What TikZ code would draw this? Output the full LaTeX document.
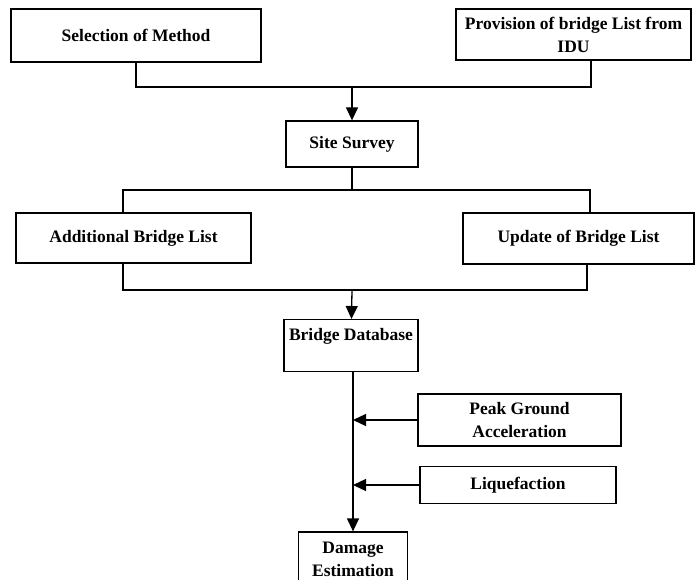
\documentclass[tikz,border=0pt]{standalone}
\usepackage{fontspec}
\setmainfont{Liberation Serif}
\usetikzlibrary{arrows.meta,positioning}

\begin{document}
\begin{tikzpicture}[x=1pt,y=-1pt,
  every node/.style={draw,line width=1.3pt,inner sep=0pt,align=center,
    font=\fontsize{17.5}{23}\selectfont\bfseries},
  link/.style={line width=1.3pt},
  arr/.style={link,-{Triangle[length=13pt,width=12pt]}}]
  \useasboundingbox (0,0) rectangle (695,580);
  \clip (0,0) rectangle (695,580);
  % Boxes
  \node (sel) [minimum width=250pt,minimum height=53pt] at (136,35.5) {Selection of Method};
  \node (prov) [minimum width=235pt,minimum height=51pt] at (573.5,34.5) {Provision of bridge List from\\IDU};
  \node (site) [minimum width=132pt,minimum height=46pt] at (352,144) {Site Survey};
  \node (add) [minimum width=235pt,minimum height=50pt] at (133.5,238) {Additional Bridge List};
  \node (upd) [minimum width=231pt,minimum height=51pt] at (578.5,238.5) {Update of Bridge List};
  \node (db) [minimum width=134pt,text height=21pt,text depth=31pt,anchor=north] at (351,319) {Bridge Database};
  \node (pga) [minimum width=203pt,minimum height=52pt] at (519.5,420) {Peak Ground\\Acceleration};
  \node (liq) [minimum width=196pt,minimum height=37pt] at (518,485) {Liquefaction};
  \node (dmg) [minimum width=109pt,minimum height=54pt] at (353,559) {Damage\\Estimation};
  \coordinate (top) at (352,87);
  \coordinate (mid) at (352,190);
  \coordinate (low) at (352,290);
  % Joins
  \draw[link] (sel) |- (top) -| ([xshift=17.5pt]prov.south);
  \draw[arr] (top) -- (site);
  \draw[link] (site) -- (mid);
  \draw[link] ([xshift=-10.5pt]add.north) |- (mid) -| ([xshift=11.5pt]upd.north);
  \draw[link] ([xshift=-10.5pt]add.south) |- (low) -| ([xshift=8.5pt]upd.south);
  \draw[arr] (low) -- (db);
  % Inputs to estimation
  \draw[arr] (db.south -| dmg) -- (dmg.north);
  \draw[arr] (pga) -- (pga -| dmg);
  \draw[arr] (liq) -- (liq -| dmg);
\end{tikzpicture}
\end{document}
